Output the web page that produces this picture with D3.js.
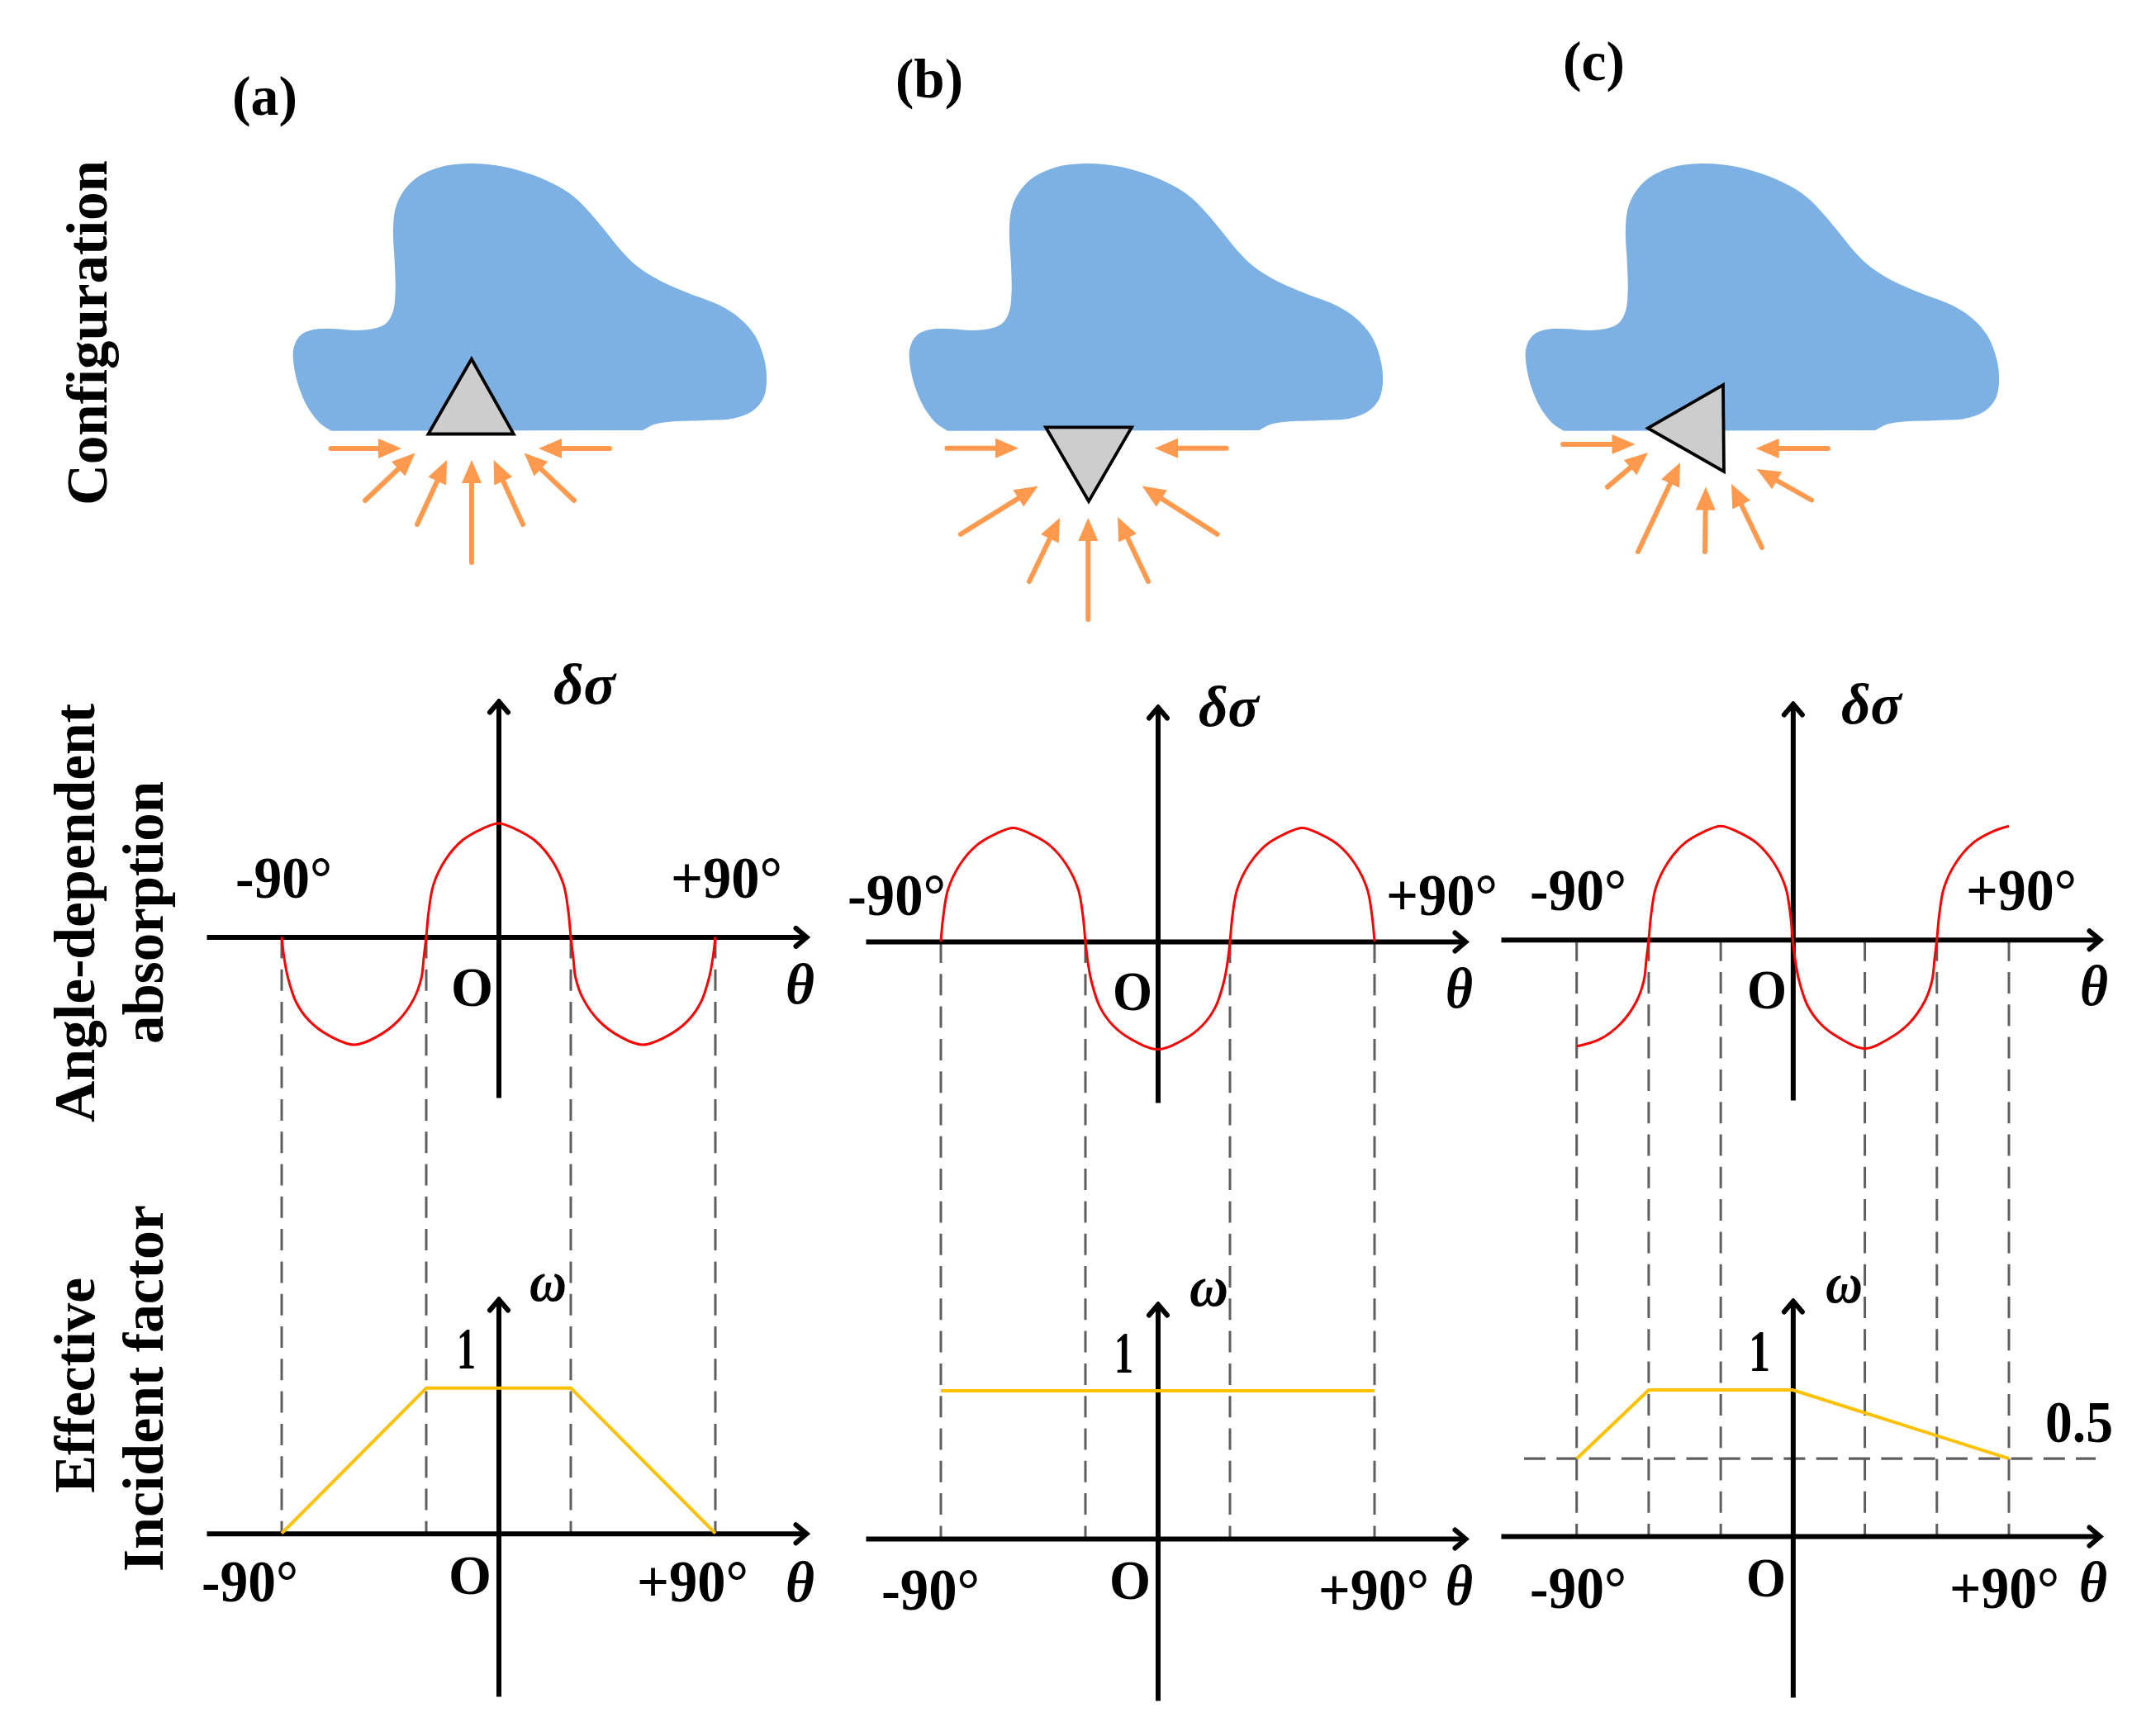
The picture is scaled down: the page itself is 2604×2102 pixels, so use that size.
<!DOCTYPE html>
<html>
<head>
<meta charset="utf-8">
<script src="https://cdn.jsdelivr.net/npm/d3@7"></script>
<style>
  html, body { margin: 0; padding: 0; background: #fff; }
  text { font-family: "Liberation Serif", serif; fill: #000; font-weight: bold; }
  .sym { font-style: italic; }
</style>
</head>
<body>
<div id="canvas"></div>
<script>
// angle-dependent absorption curves (theta in degrees, value scaled to peak)
const thetaA = [-90,-89,-87.4,-84,-78.5,-70.7,-60,-50.6,-41.7,-35,-32,-31,-30,-29,-27,-22,-15,-7,0,7,15,22,27,29,30,31,32,35,41.7,50.6,60,70.7,78.5,84,87.4,89,90];
const valuesA = [0,-.18,-.36,-.575,-.74,-.865,-.95,-.88,-.74,-.54,-.36,-.18,0,.22,.46,.68,.85,.95,1,.95,.85,.68,.46,.22,0,-.18,-.36,-.54,-.74,-.88,-.95,-.865,-.74,-.575,-.36,-.18,0];
const thetaB = [-90,-89,-87,-82,-75,-67,-60,-53,-45,-38,-33,-31,-30,-29,-27.4,-24,-18.5,-10.7,0,10.7,18.5,24,27.4,29,30,31,33,38,45,53,60,67,75,82,87,89,90];
const valuesB = [0,.22,.46,.68,.85,.95,1,.95,.85,.68,.46,.22,0,-.18,-.36,-.575,-.74,-.865,-.95,-.865,-.74,-.575,-.36,-.18,0,.22,.46,.68,.85,.95,1,.95,.85,.68,.46,.22,0];
const thetaC = [-90,-80.6,-71.7,-65,-62,-61,-60,-59,-57,-52,-45,-37,-30,-23,-15,-8,-3,-1,0,1,2.6,6,11.5,19.3,30,39.4,48.3,55,58,59,60,61,63,68,75,83,90];
const valuesC = [-.94,-.88,-.74,-.54,-.36,-.18,0,.22,.46,.68,.85,.95,1,.95,.85,.68,.46,.22,0,-.18,-.36,-.575,-.74,-.865,-.96,-.88,-.74,-.54,-.36,-.18,0,.22,.46,.68,.85,.95,1];

// effective incident factor
const omegaThetaA = [-90,-30,30,90];
const omegaValuesA = [0,1,1,0];
const omegaThetaB = [-90,90];
const omegaValuesB = [1,1];
const omegaThetaC = [-90,-60,0,90];
const omegaValuesC = [.53,1,1,.53];

// dashed guides
const guidesA = [-90,-30,30,90];
const guidesB = [-90,-30,30,90];
const guidesC = [-90,-60,-30,30,60,90];
const halfLevel = .53;

// text
const panelNames = ["(a)","(b)","(c)"];
const minusLabel = "-90°";
const plusLabel = "+90°";
const originLabel = "O";
const unitLabel = "1";
const halfLabel = "0.5";
const thetaLabel = "θ";
const sigmaLabel = "δσ";
const omegaLabel = "ω";

// sketch shapes, in units measured from the blob's top left corner
const blobOutline = [[46.3,323.7],[33,315],[17.6,295.3],[6.2,268.7],[.4,242],[.4,223.7],[8,208.7],[23.4,201.3],[50.1,200.3],[76.9,202],[99.9,199.3],[113.2,192.7],[120.9,178.7],[123.6,155.3],[122.9,122],[120.9,82],[123.5,55.3],[132.3,35.3],[149.6,17],[176.4,4.7],[207,.3],[237.6,1.3],[268.3,7],[302.5,18.7],[333.3,35.3],[352.2,52],[375.4,78.7],[398.4,107],[417.5,125.3],[444.3,142],[478.6,157],[517,172],[540,187],[559.2,208.7],[570.6,238.7],[573,265.3],[568.6,285.3],[555.2,300.3],[532.3,308.7],[497.9,311],[455.7,312.7],[436.8,316],[423.3,323]];
const triangleA = [[215.8,236.7],[163.5,327.5],[266.8,327.5]];
const triangleB = [[165,319.4],[269,319.4],[217,409]];
const triangleC = [[148,320.4],[239,268],[240,373]];
const arrowsA = [[45.5,345,131,345],[383,345,297,345],[87,408,147.5,350.5],[150,437,186,359],[216,483,216,359],[278,437,242.6,359],[340,408,279.6,350.5]];
const arrowsB = [[45.4,344.8,132,344.8],[383.7,344.8,297,344.8],[62,448.8,155.6,390.6],[372.5,448.8,281.7,390.6],[145,506,182,429],[216.3,552,216.3,429],[289,506,252,428]];
const arrowsC = [[45,340,132.5,340],[366,345,278.6,345],[99,391.6,148,350],[136,470,187,362],[217,470,218,391.6],[286,465,249,388],[346,407.5,279.7,370]];

const width = 2604;
const height = 2102;

const svg = d3.select("#canvas").append("svg")
    .attr("width", width)
    .attr("height", height)
    .style("display", "block");

const defs = svg.append("defs");
defs.append("marker")
    .attr("id", "axisHead")
    .attr("markerUnits", "userSpaceOnUse")
    .attr("viewBox", "-22 -16 26 32")
    .attr("markerWidth", 26)
    .attr("markerHeight", 32)
    .attr("refX", 0)
    .attr("refY", 0)
    .attr("orient", "auto")
    .append("path")
    .attr("d", "M-13,-11L0,0L-13,11")
    .attr("fill", "none")
    .attr("stroke", "#000")
    .attr("stroke-width", 6)
    .attr("stroke-linecap", "round");

// layouts, one per column
const columns = [
  {
    name: panelNames[0], nameBox: [281, 360, 139],
    blobLeft: 355, triangle: triangleA, arrows: arrowsA,
    x90: [341, 866], axisX: [250, 976],
    top: { zero: 1134.4, span: [849, 1329], theta: thetaA, values: valuesA,
      minus: [285, 402, 1087], plus: [812, 947, 1087], o: [546, 597, 1218], t: [951, 986, 1215], s: [670, 745, 852] },
    bottom: { zero: 1856.7, one: 1680.7, span: [1573, 2054], theta: omegaThetaA, values: omegaValuesA,
      minus: [244, 361, 1939], plus: [771, 906, 1939], o: [543, 595, 1930], t: [951, 986, 1939], w: [641, 686, 1575], u: [553, 576, 1657] },
    guides: guidesA
  },
  {
    name: panelNames[1], nameBox: [1084, 1166, 118],
    blobLeft: 1101, triangle: triangleB, arrows: arrowsB,
    x90: [1139, 1664], axisX: [1048, 1774],
    top: { zero: 1140, span: [856, 1335], theta: thetaB, values: valuesB,
      minus: [1026, 1145, 1108], plus: [1678, 1813, 1108], o: [1347, 1395, 1223], t: [1750, 1783, 1220], s: [1451, 1524, 879] },
    bottom: { zero: 1863, one: 1684, span: [1579, 2059], theta: omegaThetaB, values: omegaValuesB,
      minus: [1067, 1186, 1949], plus: [1596, 1730, 1949], o: [1343, 1393, 1936], t: [1750, 1783, 1943], w: [1440, 1487, 1581], u: [1349, 1372, 1662] },
    guides: guidesB
  },
  {
    name: panelNames[2], nameBox: [1892, 1967, 97],
    blobLeft: 1847, triangle: triangleC, arrows: arrowsC,
    x90: [1908.7, 2432], axisX: [1817, 2542],
    top: { zero: 1137.7, span: [852, 1332], theta: thetaC, values: valuesC,
      minus: [1852, 1969, 1102], plus: [2380, 2514, 1102], o: [2115, 2163, 1221], t: [2518, 2552, 1217], s: [2229, 2302, 876] },
    bottom: { zero: 1860, one: 1683, span: [1575, 2055], theta: omegaThetaC, values: omegaValuesC,
      minus: [1852, 1969, 1947], plus: [2360, 2493, 1947], o: [2114, 2162, 1933], t: [2517, 2551, 1939], w: [2210, 2255, 1577], u: [2117, 2143, 1660] },
    guides: guidesC, half: { from: 1845, to: 2537, label: [2476, 2558, 1746] }
  }
];

// text fitted to the width it has in the picture
function label(text, box, size, cls) {
  return svg.append("text")
      .attr("class", cls || null)
      .attr("x", box[0])
      .attr("y", box[2])
      .attr("font-size", size)
      .attr("textLength", box[1] - box[0])
      .attr("lengthAdjust", "spacingAndGlyphs")
      .text(text);
}

function rowTitle(text, x, y0, y1) {
  svg.append("text")
      .attr("transform", `translate(${x},${y0}) rotate(-90)`)
      .attr("font-size", 70)
      .attr("textLength", y0 - y1)
      .attr("lengthAdjust", "spacingAndGlyphs")
      .text(text);
}

rowTitle("Configuration", 129, 612, 194);
rowTitle("Angle-dependent", 114, 1359, 852);
rowTitle("absorption", 197, 1264, 946);
rowTitle("Effective", 114, 1808, 1547);
rowTitle("Incident factor", 197, 1903, 1459);

const blobLine = d3.line().curve(d3.curveCatmullRom.alpha(.5));

columns.forEach(col => {
  label(col.name, col.nameBox, 68);

  // sketch
  const sx = d3.scaleLinear().domain([0, 572]).range([col.blobLeft, col.blobLeft + 572]);
  const sy = d3.scaleLinear().domain([0, 323]).range([198, 521]);

  svg.append("path")
      .attr("d", blobLine(blobOutline.map(d => [sx(d[0]), sy(d[1])])) + "Z")
      .attr("fill", "#7DB1E3");

  svg.append("polygon")
      .attr("points", col.triangle.map(d => [sx(d[0]), sy(d[1])].join(",")).join(" "))
      .attr("fill", "#CDCDCD")
      .attr("stroke", "#000")
      .attr("stroke-width", 3.8)
      .attr("stroke-linejoin", "miter");

  col.arrows.forEach(a => {
    const x0 = sx(a[0]), y0 = sy(a[1]), x1 = sx(a[2]), y1 = sy(a[3]);
    const ang = Math.atan2(y1 - y0, x1 - x0);
    const head = 28, half = 12;
    const bx = x1 - head * Math.cos(ang), by = y1 - head * Math.sin(ang);
    svg.append("line")
        .attr("x1", x0).attr("y1", y0).attr("x2", bx).attr("y2", by)
        .attr("stroke", "#FF994D")
        .attr("stroke-width", 6)
        .attr("stroke-linecap", "round");
    svg.append("polygon")
        .attr("points", [
          [x1, y1],
          [bx - half * Math.sin(ang), by + half * Math.cos(ang)],
          [bx + half * Math.sin(ang), by - half * Math.cos(ang)]
        ].map(p => p.join(",")).join(" "))
        .attr("fill", "#FF994D");
  });

  // plots
  const x = d3.scaleLinear().domain([-90, 90]).range(col.x90);
  const xAxisScale = x.copy().domain(col.axisX.map(x.invert)).range(col.axisX);
  const topY = d3.scaleLinear().domain([-1, 1]).range([col.top.zero + 137.5, col.top.zero - 137.5]);
  const botY = d3.scaleLinear().domain([0, 1]).range([col.bottom.zero, col.bottom.one]);

  // guides first so the axes sit on top
  svg.append("g").selectAll("line").data(col.guides).join("line")
      .attr("x1", d => x(d)).attr("x2", d => x(d))
      .attr("y1", col.top.zero).attr("y2", col.bottom.zero)
      .attr("stroke", "#5F5F5F")
      .attr("stroke-width", 3)
      .attr("stroke-dasharray", "26,13.3");

  if (col.half) {
    svg.append("line")
        .attr("x1", col.half.from).attr("x2", col.half.to)
        .attr("y1", botY(halfLevel)).attr("y2", botY(halfLevel))
        .attr("stroke", "#5F5F5F")
        .attr("stroke-width", 3.2)
        .attr("stroke-dasharray", "26,13.3");
    label(halfLabel, col.half.label, 72);
  }

  [[col.top, topY, col.top.zero], [col.bottom, botY, col.bottom.zero]].forEach(([row, y, zero]) => {
    const ySpan = d3.scaleLinear()
        .domain(row.span.map(v => y.invert(v)).reverse())
        .range(row.span.slice().reverse());

    const gx = svg.append("g")
        .attr("transform", `translate(0,${zero})`)
        .call(d3.axisBottom(xAxisScale).tickValues([]).tickSize(0));
    gx.select(".domain").attr("stroke-width", 6).attr("marker-end", "url(#axisHead)");

    const gy = svg.append("g")
        .attr("transform", `translate(${x(0)},0)`)
        .call(d3.axisLeft(ySpan).tickValues([]).tickSize(0));
    gy.select(".domain").attr("stroke-width", 6).attr("marker-end", "url(#axisHead)");

    label(minusLabel, row.minus, 72);
    label(plusLabel, row.plus, 72);
    label(originLabel, row.o, 68);
    label(thetaLabel, row.t, 70, "sym");
  });

  const curve = d3.line().x(d => x(d[0])).y(d => topY(d[1])).curve(d3.curveCatmullRom.alpha(.5));
  svg.append("path")
      .attr("d", curve(d3.zip(col.top.theta, col.top.values)))
      .attr("fill", "none")
      .attr("stroke", "#FF0000")
      .attr("stroke-width", 3);

  const factor = d3.line().x(d => x(d[0])).y(d => botY(d[1]));
  svg.append("path")
      .attr("d", factor(d3.zip(col.bottom.theta, col.bottom.values)))
      .attr("fill", "none")
      .attr("stroke", "#FFC000")
      .attr("stroke-width", 4);

  label(sigmaLabel, col.top.s, 70, "sym");
  label(omegaLabel, col.bottom.w, 70, "sym");
  label(unitLabel, col.bottom.u, 72);
});
</script>
</body>
</html>
